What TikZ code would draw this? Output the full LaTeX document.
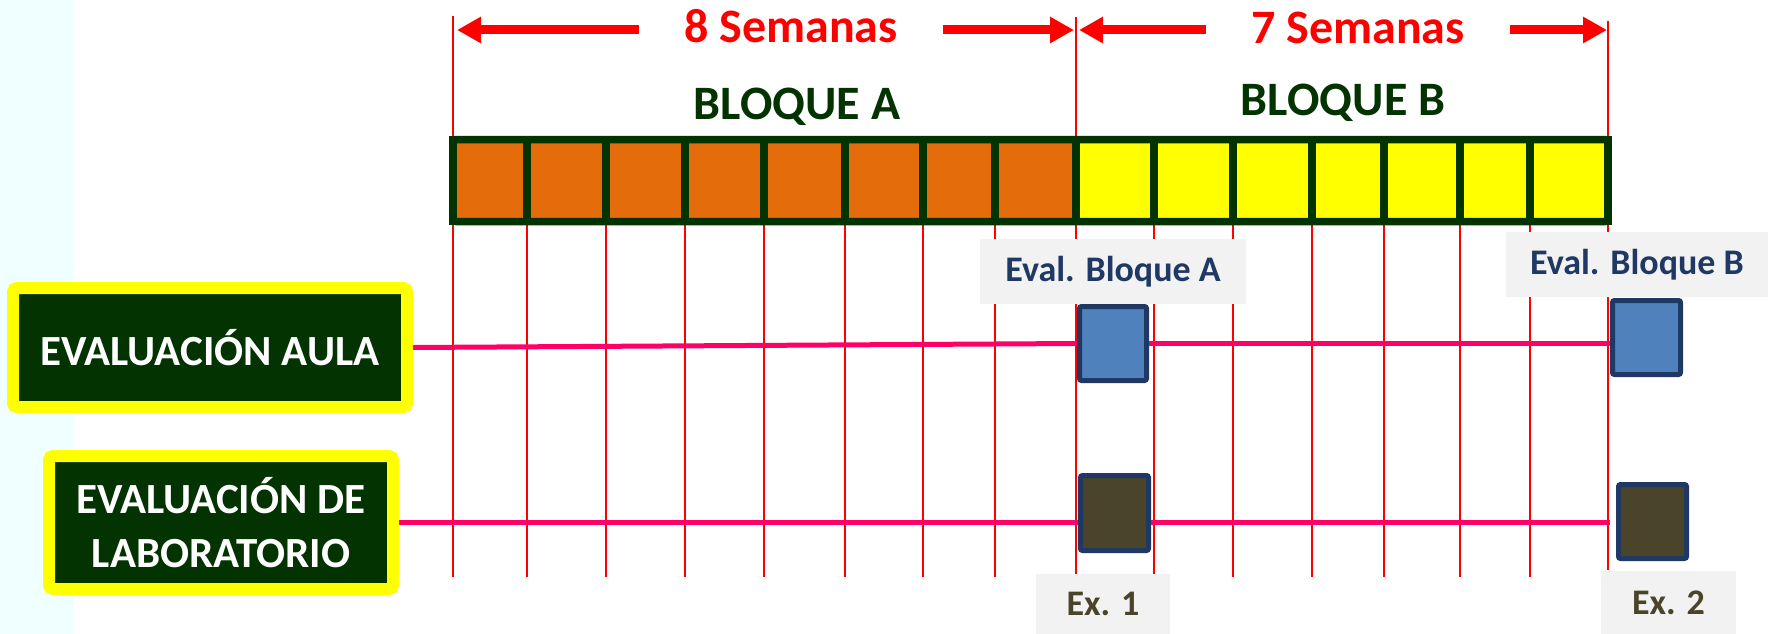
\documentclass[tikz,border=0pt]{standalone}
\usepackage{fontspec}
\setmainfont{Carlito}
\usetikzlibrary{arrows.meta}
\definecolor{azurebg}{HTML}{F0FFFF}
\definecolor{bargreen}{HTML}{023300}
\definecolor{barorange}{HTML}{E46C0A}
\definecolor{baryellow}{HTML}{FFFF00}
\definecolor{hotpink}{HTML}{FF0066}
\definecolor{navy}{HTML}{1F3864}
\definecolor{blueA}{HTML}{4F81BD}
\definecolor{brownA}{HTML}{4A452A}
\definecolor{lightgray}{HTML}{F2F2F2}
\begin{document}
\begin{tikzpicture}[x=1pt,y=-1pt,
  cell/.style={draw=bargreen,line width=7.5pt,inner sep=0pt,outer sep=0pt,minimum height=82pt},
  vline/.style={draw=red,line width=1.8pt},
  bigarrow/.style={draw=red,line width=9pt,-{Triangle[length=24pt,width=25pt]}},
  semlabel/.style={text=red,font=\bfseries\fontsize{48}{58}\selectfont,inner xsep=45pt,inner ysep=0pt,anchor=base},
  bloquelabel/.style={text=bargreen,font=\bfseries\fontsize{48}{58}\selectfont,anchor=base,inner sep=0pt},
  evalbox/.style={draw=baryellow,fill=bargreen,line width=12pt,rounded corners=4pt,text=white,
     font=\bfseries\fontsize{43}{54}\selectfont,align=center,inner sep=0pt},
  pinkline/.style={draw=hotpink,line width=5pt},
  marker/.style={draw=navy,line width=5pt,rounded corners=2pt,inner sep=0pt,minimum width=68pt,minimum height=74pt},
  tag/.style={fill=lightgray,inner sep=0pt,font=\bfseries\fontsize{36}{44}\selectfont}
]
\useasboundingbox (0,0) rectangle (1769,634);
\fill[azurebg] (0,0) rectangle (74,634);

% red week lines
\foreach \x in {527,606,685,764,845,923,995,1154,1233,1312,1384,1460,1530}
  \draw[vline] (\x,150) -- (\x,577);
\draw[vline] (453,16) -- (453,577);
\draw[vline] (1076,17) -- (1076,577);
\draw[vline] (1608,21) -- (1608,570);

% bar of weeks
\foreach \a/\b/\c [count=\i] in {453/527/barorange,527/606/barorange,606/685/barorange,685/764/barorange,
   764/845/barorange,845/923/barorange,923/995/barorange,995/1076/barorange,
   1076/1154/baryellow,1154/1233/baryellow,1233/1312/baryellow,1312/1384/baryellow,
   1384/1460/baryellow,1460/1530/baryellow,1530/1608/baryellow}
  \node[cell,fill=\c,minimum width={\b-\a}] (c\i) at ({(\a+\b)/2},180.5) {};
\draw[bargreen,line width=7.5pt,rounded corners=3pt] (c1.north west) rectangle (c15.south east);

% top dimension arrows
\coordinate (a8l) at (457,30);
\coordinate (a8r) at (1074,30);
\coordinate (a7l) at (1079,30);
\coordinate (a7r) at (1607,30);
\node[semlabel] (s8) at (791,43) {8 Semanas};
\node[semlabel] (s7) at (1358,44) {7 Semanas};
\draw[bigarrow] (s8.west |- a8l) -- (a8l);
\draw[bigarrow] (s8.east |- a8r) -- (a8r);
\draw[bigarrow] (s7.west |- a7l) -- (a7l);
\draw[bigarrow] (s7.east |- a7r) -- (a7r);

\node[bloquelabel] (bA) at (797,119) {BLOQUE A};
\node[bloquelabel] (bB) at (1343,115) {BLOQUE B};

% row labels
\node[evalbox,minimum width=394pt,minimum height=119pt] (aula) at (210,347.5) {EVALUACIÓN AULA};
\node[evalbox,minimum width=344pt,minimum height=133pt] (lab) at (221,522.5) {EVALUACIÓN DE\\LABORATORIO};

% markers
\node[marker,fill=blueA,minimum width=67pt] (sqA) at (1113,343.5) {};
\node[marker,fill=blueA] (sqB) at (1646.5,337.5) {};
\node[marker,fill=brownA,minimum height=75pt] (sqA2) at (1114.5,513) {};
\node[marker,fill=brownA] (sqB2) at (1652.5,521.5) {};

% timelines
\draw[pinkline] (aula.east) -- (sqA.west);
\draw[pinkline] (sqA.east) -- (sqA.east -| sqB.west);
\coordinate (labend) at ([xshift=-6pt]sqB2.west |- lab.east);
\draw[pinkline] (lab.east) -- (lab.east -| sqA2.west);
\draw[pinkline] (sqA2.east |- lab.east) -- (labend);

% tags
\node[tag,text=navy,minimum width=266pt,minimum height=65pt] (evA) at (1113,271.5) {Eval. Bloque A};
\node[tag,text=navy,minimum width=262pt,minimum height=65pt] (evB) at (1637,264.5) {Eval. Bloque B};
\node[tag,text=brownA,minimum width=134pt,minimum height=60pt] (ex1) at (1103,604) {\raisebox{-3pt}{Ex. 1}};
\node[tag,text=brownA,minimum width=135pt,minimum height=63pt] (ex2) at (1668.5,602.5) {\raisebox{-2pt}{Ex. 2}};
\end{tikzpicture}
\end{document}
